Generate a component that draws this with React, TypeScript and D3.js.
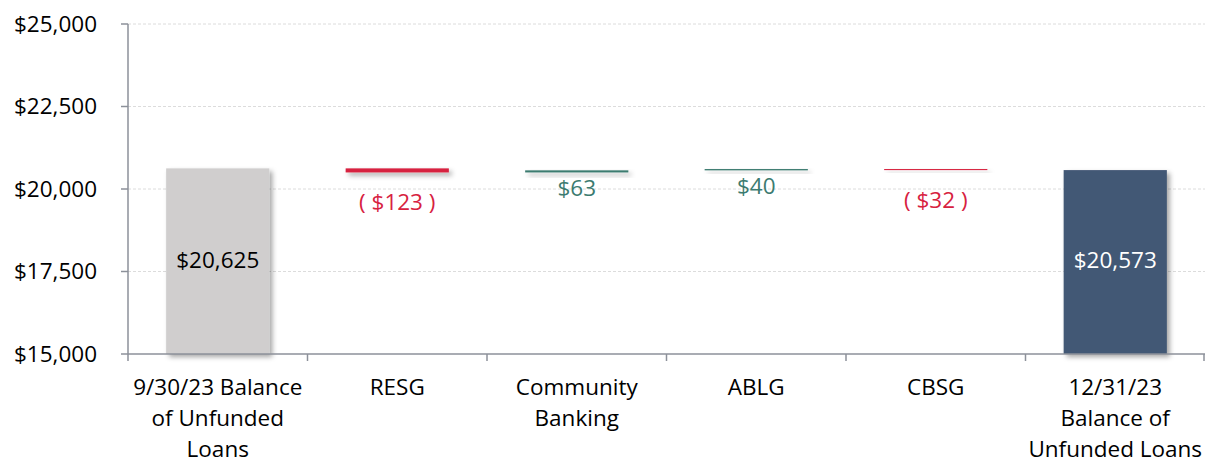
import React from "react";
import * as d3 from "d3";

const categories: string[][] = [
  ["9/30/23 Balance", "of Unfunded", "Loans"],
  ["RESG"],
  ["Community", "Banking"],
  ["ABLG"],
  ["CBSG"],
  ["12/31/23", "Balance of", "Unfunded Loans"],
];
const startValue = 20625;
const changes = [-123, 63, 40, -32];
const endValue = 20573;
const yTicks = [15000, 17500, 20000, 22500, 25000];

const W = 1205;
const H = 464;
const FONT = "'Open Sans', Lato, sans-serif";
const FS = 22.5;
const RED = "#D7223F";
const TEAL = "#3C7B70";
const GRAY = "#D0CECE";
const NAVY = "#435874";

export default function App() {
  const left = 128;
  const right = 1205;
  const top = 24;
  const bottom = 354;
  const x = d3.scaleBand<number>().domain(d3.range(categories.length)).range([left, right]).paddingInner(0.425).paddingOuter(0.2125);
  const xb = d3.scaleBand<number>().domain(d3.range(categories.length)).range([left, right]);
  const y = d3.scaleLinear().domain([15000, 25000]).range([bottom, top]);
  const fmt = d3.format(",");

  type Bar = { lo: number; hi: number; color: string; label: string; labelColor: string; kind: "total" | "delta"; v: number };
  const bars: Bar[] = [];
  bars.push({ lo: 15000, hi: startValue, color: GRAY, label: "$" + fmt(startValue), labelColor: "#000", kind: "total", v: startValue });
  let run = startValue;
  changes.forEach((c) => {
    const next = run + c;
    bars.push({
      lo: Math.min(run, next),
      hi: Math.max(run, next),
      color: c < 0 ? RED : TEAL,
      label: c < 0 ? "( $" + fmt(-c) + " )" : "$" + fmt(c),
      labelColor: c < 0 ? RED : TEAL,
      kind: "delta",
      v: c,
    });
    run = next;
  });
  bars.push({ lo: 15000, hi: endValue, color: NAVY, label: "$" + fmt(endValue), labelColor: "#fff", kind: "total", v: endValue });

  return (
    <svg width={W} height={H} style={{ position: "absolute", left: 0, top: 0, background: "#fff" }} fontFamily={FONT}>
      <defs>
        <filter id="sh" x="-20%" y="-50%" width="150%" height="400%">
          <feDropShadow dx="3" dy="3" stdDeviation="2.5" floodColor="#000" floodOpacity="0.35" />
        </filter>
      </defs>
      {yTicks.map((t) => (
        <g key={t}>
          {t !== 15000 && (
            <line x1={left} x2={right} y1={y(t)} y2={y(t)} stroke="#DCDCDC" strokeWidth={1} strokeDasharray="3,2" />
          )}
          <line x1={left - 7} x2={left} y1={y(t)} y2={y(t)} stroke="#8C919A" strokeWidth={1.5} />
          <text x={97} y={y(t)} dy="0.35em" textAnchor="end" fontSize={FS} fill="#000">
            {"$" + fmt(t)}
          </text>
        </g>
      ))}
      {bars.map((b, i) => {
        const x0 = x(i)!;
        const bw = x.bandwidth();
        const y0 = y(b.hi);
        const h = Math.max(y(b.lo) - y(b.hi), 1);
        const cx = x0 + bw / 2;
        return (
          <g key={i}>
            <rect x={x0} y={y0} width={bw} height={h} fill={b.color} filter="url(#sh)" />
            {b.kind === "total" ? (
              <text x={cx} y={y(17500) - 11} dy="0.35em" textAnchor="middle" fontSize={FS} fill={b.labelColor}>
                {b.label}
              </text>
            ) : (
              <text x={cx} y={y(b.lo) + (b.v < 0 ? 30 : 16)} dy="0.35em" textAnchor="middle" fontSize={FS} fill={b.labelColor}>
                {b.label}
              </text>
            )}
          </g>
        );
      })}
      <line x1={left} x2={left} y1={top} y2={bottom} stroke="#8C919A" strokeWidth={1.5} />
      <line x1={left} x2={right} y1={bottom} y2={bottom} stroke="#8C919A" strokeWidth={1.5} />
      {d3.range(categories.length + 1).map((i) => {
        const xx = i < categories.length ? xb(i)! : right - 1;
        return <line key={i} x1={xx} x2={xx} y1={bottom} y2={bottom + 7} stroke="#8C919A" strokeWidth={1.5} />;
      })}
      {categories.map((lines, i) => (
        <text key={i} x={xb(i)! + xb.bandwidth() / 2} y={395} textAnchor="middle" fontSize={FS} fill="#000">
          {lines.map((l, j) => (
            <tspan key={j} x={xb(i)! + xb.bandwidth() / 2} dy={j === 0 ? 0 : 31}>
              {l}
            </tspan>
          ))}
        </text>
      ))}
    </svg>
  );
}
